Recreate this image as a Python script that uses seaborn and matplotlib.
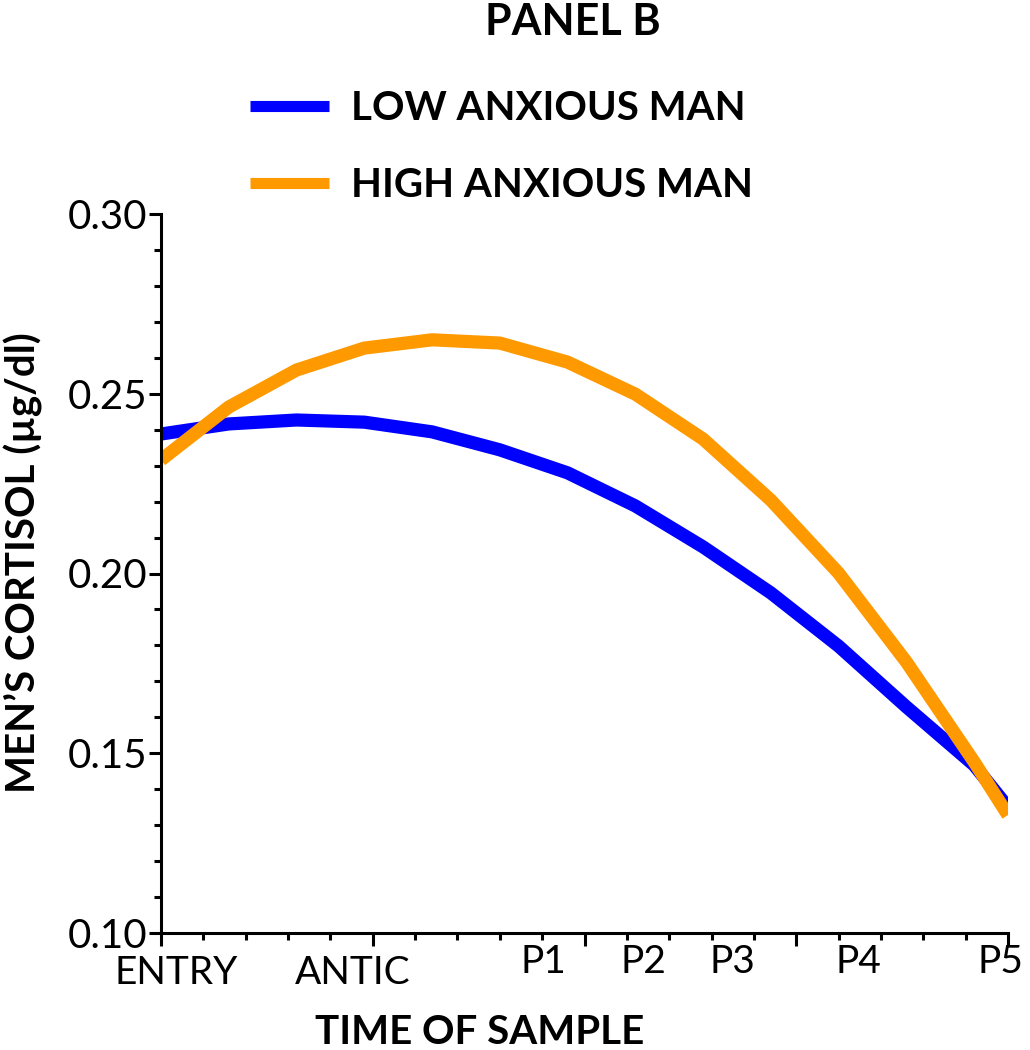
import matplotlib
matplotlib.use("Agg")
import matplotlib.pyplot as plt
import matplotlib.transforms as mtransforms
from matplotlib.ticker import MultipleLocator, NullFormatter
import seaborn as sns
import pandas as pd

# ---- data ----
time_x = [0, 1.6, 3.2, 4.8, 6.4, 8.0, 9.6, 11.2, 12.8, 14.4, 16.0, 17.6, 19.2, 20.0]
low_anxious = [0.2388, 0.2416, 0.2427, 0.2421, 0.2394, 0.2344, 0.2280, 0.2188,
               0.2074, 0.1946, 0.1798, 0.1629, 0.1467, 0.1350]
high_anxious = [0.2316, 0.2463, 0.2566, 0.2627, 0.2650, 0.2641, 0.2588, 0.2499,
                0.2374, 0.2204, 0.2001, 0.1754, 0.1476, 0.1328]
series_names = ["LOW ANXIOUS MAN", "HIGH ANXIOUS MAN"]
sample_labels = ["ENTRY", "ANTIC", "P1", "P2", "P3", "P4", "P5"]
sample_label_pos = [0.35, 4.53, 9.04, 11.38, 13.48, 16.46, 19.81]

df = pd.DataFrame({
    "time": time_x * 2,
    "cortisol": low_anxious + high_anxious,
    "group": [series_names[0]] * len(time_x) + [series_names[1]] * len(time_x),
})

sns.set_theme(style="white")
plt.rcParams["font.family"] = ["Lato", "DejaVu Sans"]
plt.rcParams["text.color"] = "black"
plt.rcParams["axes.labelcolor"] = "black"
plt.rcParams["xtick.color"] = "black"
plt.rcParams["ytick.color"] = "black"

fig = plt.figure(figsize=(10.3, 10.5), dpi=100)
ax = fig.add_axes([161 / 1030, 1 - 933 / 1050, (1008 - 161) / 1030, (933 - 214) / 1050])

palette = {series_names[0]: "#0000FF", series_names[1]: "#FF9900"}
sns.lineplot(data=df, x="time", y="cortisol", hue="group", hue_order=series_names,
             palette=palette, linewidth=9.5, ax=ax, sort=False, legend=True,
             solid_capstyle="butt", solid_joinstyle="miter")

ax.set_xlim(0, 20)
ax.set_ylim(0.10, 0.30)

for s in ["top", "right"]:
    ax.spines[s].set_visible(False)
for s in ["left", "bottom"]:
    ax.spines[s].set_color("black")
    ax.spines[s].set_linewidth(2.2)

ax.xaxis.set_major_locator(MultipleLocator(5))
ax.xaxis.set_minor_locator(MultipleLocator(1))
ax.xaxis.set_major_formatter(NullFormatter())
ax.yaxis.set_major_locator(MultipleLocator(0.05))
ax.yaxis.set_minor_locator(MultipleLocator(0.01))
ax.yaxis.set_major_formatter(lambda v, p: f"{v:.2f}")

ax.tick_params(axis="both", which="major", direction="out", length=9, width=2.2,
               color="black", bottom=True, left=True)
ax.tick_params(axis="both", which="minor", direction="out", length=5, width=2.2,
               color="black", bottom=True, left=True)
ax.tick_params(axis="y", which="major", labelsize=29, pad=1, labelcolor="black")

trans = mtransforms.blended_transform_factory(ax.transData, ax.transAxes)
for lab, pos in zip(sample_labels, sample_label_pos):
    yoff = -(973 - 933) / (933 - 214) if lab in ("ENTRY", "ANTIC") else -(962 - 933) / (933 - 214)
    ax.text(pos, yoff, lab, transform=trans, ha="center", va="center",
            fontsize=28, color="black")

ax.set_xlabel("TIME OF SAMPLE", fontsize=29, fontweight="bold", color="black",
              va="center", ha="center")
ax.xaxis.set_label_coords((480 - 161) / (1008 - 161), -(1033 - 933) / (933 - 214))
ax.set_ylabel("MEN\u2019S CORTISOL (\u00b5g/dl)", fontsize=29, fontweight="bold",
              color="black", va="center", ha="center")
ax.yaxis.set_label_coords(-(161 - 23) / (1008 - 161), (933 - 563) / (933 - 214))

handles, labels = ax.get_legend_handles_labels()
for h in handles:
    h.set_linewidth(8)
    h.set_solid_capstyle("butt")
leg = ax.legend(handles, labels, loc="center left", bbox_to_anchor=(250 / 1030, 1 - 147 / 1050),
                bbox_transform=fig.transFigure, frameon=False,
                prop={"weight": "bold", "size": 29}, handlelength=1.95, handletextpad=0.55,
                labelspacing=1.0, borderpad=0, borderaxespad=0)
for t in leg.get_texts():
    t.set_color("black")

fig.text(573 / 1030, 1 - 22 / 1050, "PANEL B", ha="center", va="center",
         fontsize=31, fontweight="bold", color="black")

fig.savefig("out.png", dpi=100, facecolor="white")
